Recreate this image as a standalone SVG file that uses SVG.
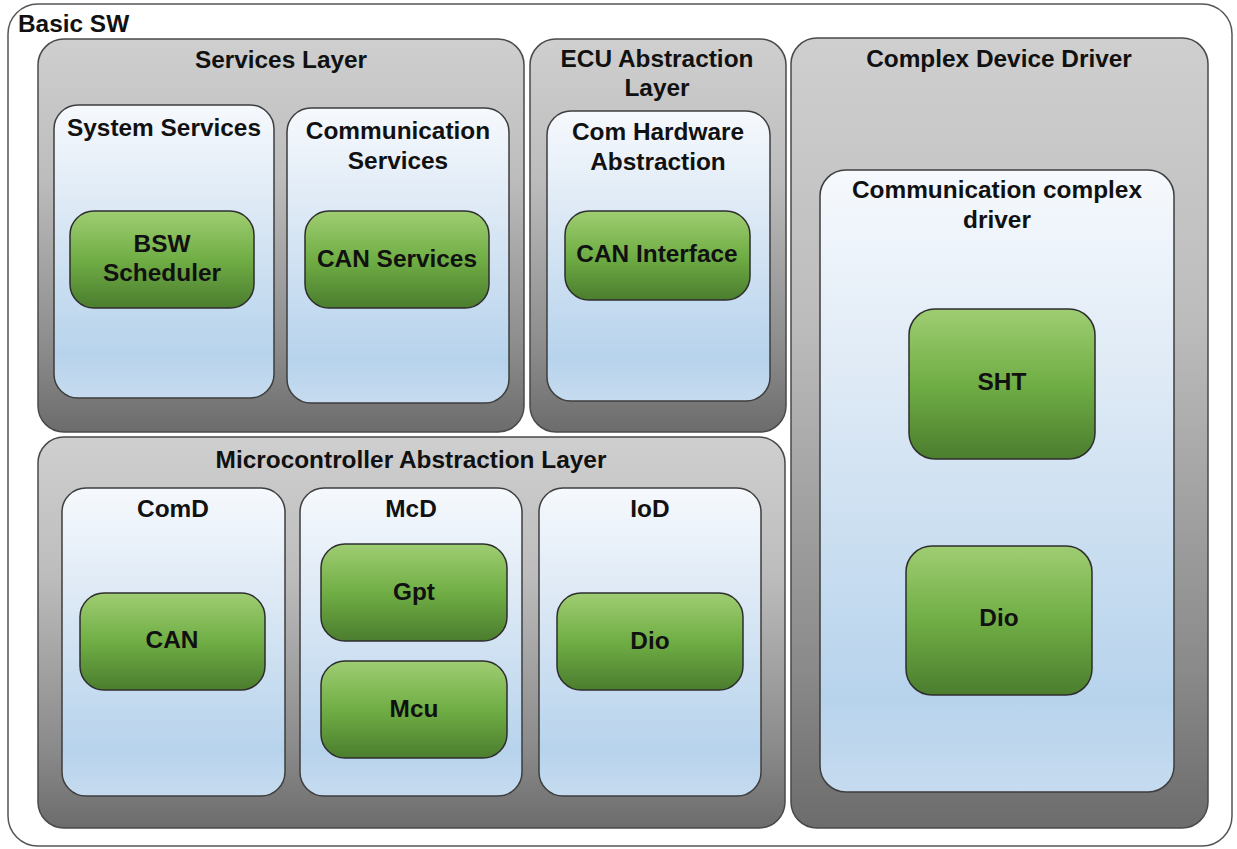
<svg xmlns="http://www.w3.org/2000/svg" width="1237" height="849" viewBox="0 0 1237 849">
  <defs>
    <linearGradient id="gLayer" x1="0" y1="0" x2="0" y2="1">
      <stop offset="0" stop-color="#cfcfcf"/>
      <stop offset="0.35" stop-color="#bdbdbd"/>
      <stop offset="0.8" stop-color="#8a8a8a"/>
      <stop offset="1" stop-color="#6c6c6c"/>
    </linearGradient>
    <linearGradient id="gBlue" x1="0" y1="0" x2="0" y2="1">
      <stop offset="0" stop-color="#f6f9fd"/>
      <stop offset="0.35" stop-color="#dde9f5"/>
      <stop offset="0.85" stop-color="#b7d3ec"/>
      <stop offset="1" stop-color="#c6dbef"/>
    </linearGradient>
    <linearGradient id="gGreen" x1="0" y1="0" x2="0" y2="1">
      <stop offset="0" stop-color="#9fcd72"/>
      <stop offset="0.5" stop-color="#70ae45"/>
      <stop offset="1" stop-color="#4b7d2e"/>
    </linearGradient>
  </defs>
  <style>
    .outer { fill: #ffffff; stroke: #555555; stroke-width: 1.5; }
    .layer { fill: url(#gLayer); stroke: #4a4a4a; stroke-width: 1.5; }
    .comp { fill: url(#gBlue); stroke: #3e3e3e; stroke-width: 1.5; }
    .mod { fill: url(#gGreen); stroke: #2e2e2e; stroke-width: 1.5; }
    text { font-family: "Liberation Sans", Arial, sans-serif; font-weight: bold; font-size: 24.4px; fill: #111111; text-anchor: middle; }
    .left { text-anchor: start; }
  </style>

  <g id="basic-sw">
    <rect class="outer" x="8" y="4" width="1224" height="842" rx="30"/>
    <text class="left" x="18" y="32">Basic SW</text>
  </g>

  <!-- layers -->
  <g id="services-layer">
    <rect class="layer" x="38" y="39" width="486" height="393" rx="26"/>
    <text x="281" y="68">Services Layer</text>
  </g>
  <g id="ecu-abstraction-layer">
    <rect class="layer" x="530" y="39" width="256" height="393" rx="26"/>
    <text x="657" y="67">ECU Abstraction</text>
    <text x="657" y="96">Layer</text>
  </g>
  <g id="complex-device-driver">
    <rect class="layer" x="791" y="38" width="417" height="790" rx="26"/>
    <text x="999" y="67">Complex Device Driver</text>
  </g>
  <g id="mcal-layer">
    <rect class="layer" x="38" y="437" width="747" height="391" rx="26"/>
    <text x="411" y="468">Microcontroller Abstraction Layer</text>
  </g>

  <!-- component groups -->
  <g id="system-services">
    <rect class="comp" x="54" y="105" width="220" height="293" rx="24"/>
    <text x="164" y="136">System Services</text>
  </g>
  <g id="communication-services">
    <rect class="comp" x="287" y="108" width="222" height="295" rx="24"/>
    <text x="398" y="139">Communication</text>
    <text x="398" y="169">Services</text>
  </g>
  <g id="com-hw-abstraction">
    <rect class="comp" x="547" y="111" width="223" height="290" rx="24"/>
    <text x="658" y="140">Com Hardware</text>
    <text x="658" y="170">Abstraction</text>
  </g>
  <g id="comm-complex-driver">
    <rect class="comp" x="820" y="170" width="354" height="622" rx="26"/>
    <text x="997" y="198">Communication complex</text>
    <text x="997" y="228">driver</text>
  </g>
  <g id="comd">
    <rect class="comp" x="62" y="488" width="223" height="308" rx="24"/>
    <text x="173" y="517">ComD</text>
  </g>
  <g id="mcd">
    <rect class="comp" x="300" y="488" width="222" height="308" rx="24"/>
    <text x="411" y="517">McD</text>
  </g>
  <g id="iod">
    <rect class="comp" x="539" y="488" width="222" height="308" rx="24"/>
    <text x="650" y="517">IoD</text>
  </g>

  <!-- modules -->
  <g id="bsw-scheduler">
    <rect class="mod" x="70" y="211" width="184" height="97" rx="24"/>
    <text x="162" y="252">BSW</text>
    <text x="162" y="281">Scheduler</text>
  </g>
  <g id="can-services">
    <rect class="mod" x="305" y="211" width="184" height="97" rx="24"/>
    <text x="397" y="267">CAN Services</text>
  </g>
  <g id="can-interface">
    <rect class="mod" x="565" y="211" width="185" height="89" rx="24"/>
    <text x="657" y="262">CAN Interface</text>
  </g>
  <g id="sht">
    <rect class="mod" x="909" y="309" width="186" height="150" rx="26"/>
    <text x="1002" y="390">SHT</text>
  </g>
  <g id="cdd-dio">
    <rect class="mod" x="906" y="546" width="186" height="149" rx="26"/>
    <text x="999" y="626">Dio</text>
  </g>
  <g id="can">
    <rect class="mod" x="80" y="593" width="185" height="97" rx="24"/>
    <text x="172" y="648">CAN</text>
  </g>
  <g id="gpt">
    <rect class="mod" x="321" y="544" width="186" height="97" rx="24"/>
    <text x="414" y="600">Gpt</text>
  </g>
  <g id="mcu">
    <rect class="mod" x="321" y="661" width="186" height="97" rx="24"/>
    <text x="414" y="717">Mcu</text>
  </g>
  <g id="iod-dio">
    <rect class="mod" x="557" y="593" width="186" height="97" rx="24"/>
    <text x="650" y="649">Dio</text>
  </g>

  <g id="connectors"/>
</svg>
